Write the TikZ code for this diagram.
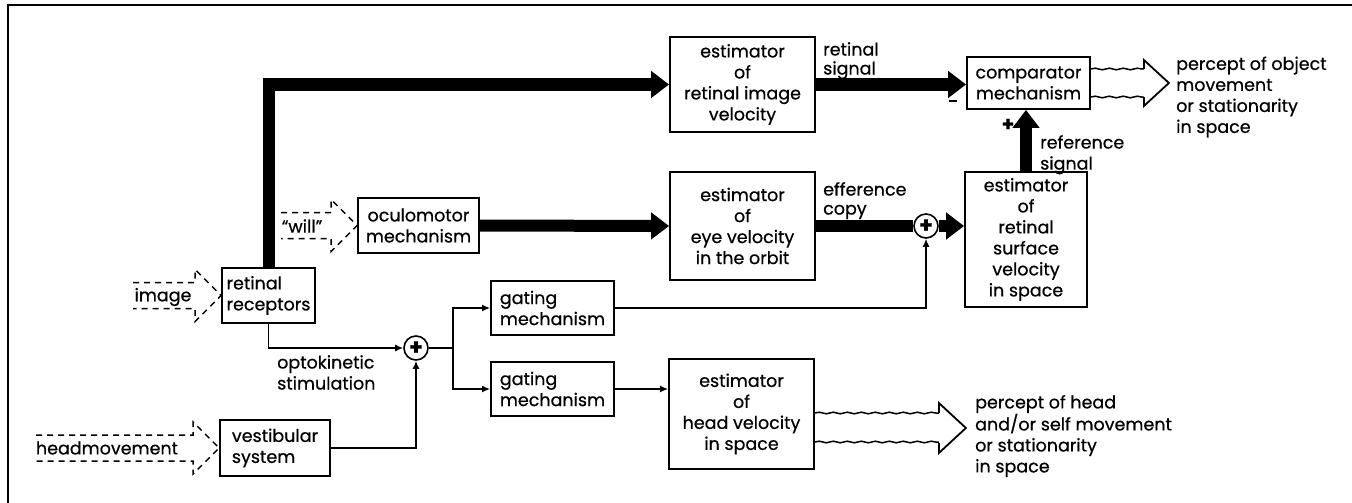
\documentclass[tikz,border=0pt]{standalone}
\usepackage{fontspec}
\setmainfont{Poppins}[FakeBold=0.6]
\usetikzlibrary{arrows.meta,calc,decorations.pathmorphing}
\newcommand{\diagfont}{\fontsize{17.5}{21}\selectfont}
\tikzset{
  blockbox/.style={draw, line width=1.8pt, inner sep=0pt, align=center, font=\diagfont},
  sumnode/.style={circle, draw, line width=1.6pt, minimum size=24pt, inner sep=0pt, font=\bfseries\fontsize{22}{22}\selectfont},
  bigflow/.style={line width=12pt, -{Triangle[length=18pt,width=26pt]}},
  bigline/.style={line width=12pt},
  smallflow/.style={line width=1.5pt, -{Latex[length=8pt,width=7pt]}},
  wavyshaft/.style={line width=1.5pt, decorate, decoration={snake, amplitude=0.8pt, segment length=14pt}},
  openhead/.style={line width=1.8pt},
  dashedinput/.style={line width=1.5pt, dash pattern=on 6pt off 5pt},
  labeltext/.style={font=\diagfont, align=left, inner sep=0pt}
}
\begin{document}
\begin{tikzpicture}[x=1pt,y=-1pt]
\useasboundingbox (0,0) rectangle (1352,503);
\draw[line width=1.2pt] (8,5) rectangle (1380,530);

% blocks
\node[blockbox, minimum width=145pt, minimum height=95pt] (retimg) at (742.5,84.5) {estimator\\of\\retinal image\\velocity};
\node[blockbox, minimum width=123pt, minimum height=52pt] (comp) at (1028.5,83) {comparator\\mechanism};
\node[blockbox, minimum width=122pt, minimum height=135pt] (retsurf) at (1026,239.5) {estimator\\of\\retinal\\surface\\velocity\\in space};
\node[blockbox, minimum width=145pt, minimum height=108pt] (eyevel) at (742.5,226) {estimator\\of\\eye velocity\\in the orbit};
\node[blockbox, minimum width=121pt, minimum height=55pt] (oculo) at (418.5,225.5) {oculomotor\\mechanism};
\node[blockbox, minimum width=93pt, minimum height=55pt, align=left] (recept) at (268.5,295.5) {retinal\\receptors};
\node[blockbox, minimum width=110pt, minimum height=56pt, align=left] (vestib) at (275,448) {vestibular\\system};
\node[blockbox, minimum width=123pt, minimum height=54pt, align=left] (gate1) at (552.5,308) {gating\\mechanism};
\node[blockbox, minimum width=123pt, minimum height=54pt, align=left] (gate2) at (552.5,389) {gating\\mechanism};
\node[blockbox, minimum width=145pt, minimum height=110pt] (headvel) at (741.5,414) {estimator\\of\\head velocity\\in space};
\node[sumnode] (sumlow) at (416,348) {+};
\node[sumnode] (sumup) at (926,226) {+};

% thick signal paths
\draw[bigflow] (recept.north) |- (retimg.west);
\draw[bigflow] (retimg.east) -- (retimg.east -| comp.west);
\draw[bigflow] (oculo.east) -- (eyevel.west);
\draw[bigline] (eyevel.east) -- (sumup.west);
\draw[bigflow] (sumup.east) -- (sumup.east -| retsurf.west);
\draw[bigflow] (retsurf.north) -- (retsurf.north |- comp.south);

% thin signal paths
\draw[smallflow] (recept.south) |- (sumlow.west);
\draw[smallflow] (vestib.east) -| (sumlow.south);
\coordinate (branch) at ($(sumlow.east)+(24,0)$);
\draw[line width=1.5pt] (sumlow.east) -- (branch);
\draw[smallflow] (branch) |- (gate1.west);
\draw[smallflow] (branch) |- (gate2.west);
\draw[smallflow] (gate1.east) -| (sumup.south);
\draw[smallflow] (gate2.east) -- (gate2.east -| headvel.west);

% dashed inputs
\foreach \n/\len in {oculo/76,recept/88,vestib/183}{
  \draw[dashedinput] ($(\n.west)+(-\len,-13)$) -- ($(\n.west)+(-26,-13)$) -- ++(0,-13)
    -- (\n.west) -- ++(-26,26) -- ++(0,-13) -- ($(\n.west)+(-\len,13)$);
}
\node[labeltext] (willtext) at (302,226) {``will''};
\node[labeltext] (imgtext) at (163,297) {image};
\node[labeltext] (headmvtext) at (107,448) {headmovement};

% percept outputs
\coordinate (objout) at (comp.east);
\draw[wavyshaft] ($(objout)+(0,-14)$) -- ++(53,0);
\draw[wavyshaft] ($(objout)+(0,14)$) -- ++(53,0);
\draw[openhead] ($(objout)+(53,-14)$) -- ++(0,-9) -- ++(25,23) -- ++(-25,23) -- ++(0,-9);
\node[labeltext, anchor=west] (objtext) at (1176,97) {percept of object\\movement\\or stationarity\\in space};

\coordinate (headout) at ($(headvel.east)+(0,14)$);
\draw[wavyshaft] ($(headout)+(0,-15)$) -- ++(124,0);
\draw[wavyshaft] ($(headout)+(0,14)$) -- ++(124,0);
\draw[openhead] ($(headout)+(124,-15)$) -- ++(0,-10) -- ++(27,25) -- ++(-27,25) -- ++(0,-10);
\node[labeltext, anchor=west] (headtext) at (975,436) {percept of head\\and/or self movement\\or stationarity\\in space};

% signal labels
\node[labeltext, anchor=north west, font=\fontsize{17.5}{19}\selectfont] (retsig) at (823,42) {retinal\\signal};
\node[labeltext, anchor=north west, font=\fontsize{17.5}{19}\selectfont] (effcopy) at (823,182) {efference\\copy};
\node[labeltext, anchor=north west] (refsig) at (1040,135) {reference\\signal};
\node[labeltext, anchor=north west] (optostim) at (277,355) {optokinetic\\stimulation};
\draw[line width=2pt] (949,101) -- (957,101);
\node[labeltext, font=\bfseries\fontsize{20}{20}\selectfont] (plus) at (1008,125) {+};
\end{tikzpicture}
\end{document}
